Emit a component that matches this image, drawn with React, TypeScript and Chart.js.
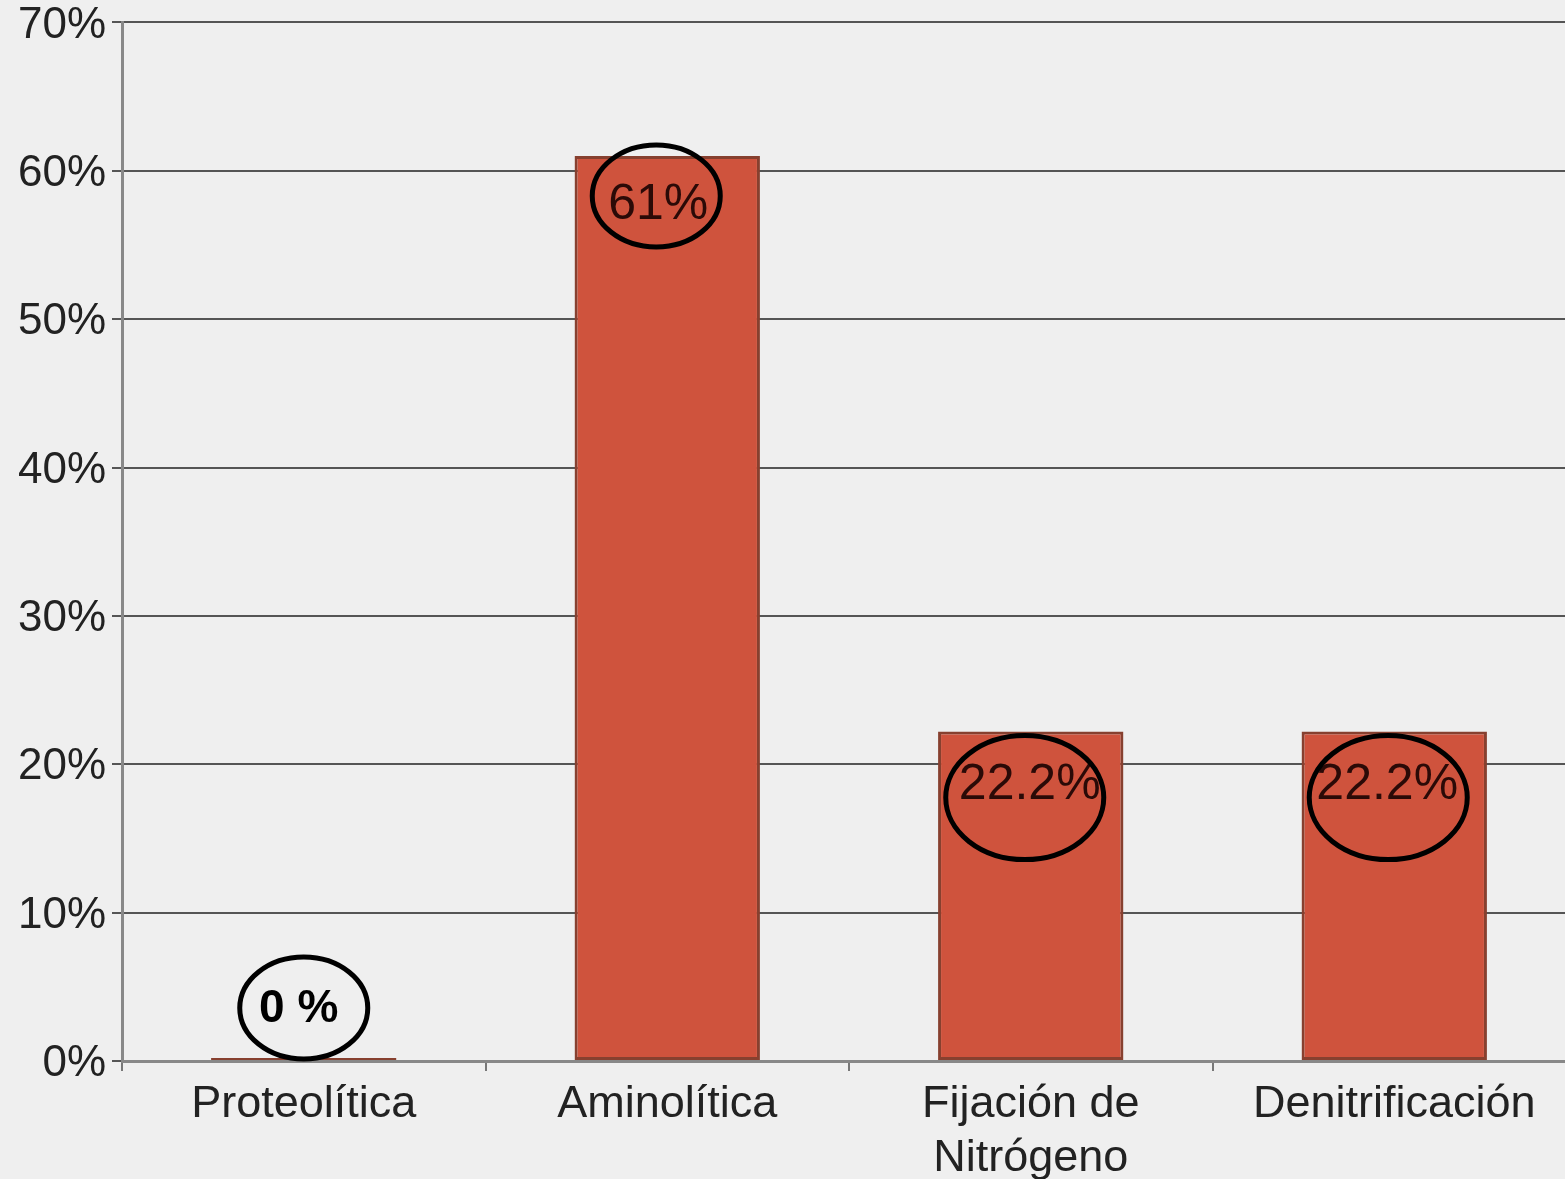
import React, { useEffect, useRef } from "react";
import { Chart, registerables } from "chart.js";

Chart.register(...registerables);

const categories: (string | string[])[] = [
  "Proteolítica",
  "Aminolítica",
  ["Fijación de", "Nitrógeno"],
  "Denitrificación",
];
const values = [0, 61, 22.2, 22.2];
const valueLabels = ["0 %", "61%", "22.2%", "22.2%"];
const yTicks = [0, 10, 20, 30, 40, 50, 60, 70];

const FONT = "'Liberation Sans', Arial, sans-serif";

const annotationPlugin = {
  id: "ellipseLabels",
  afterDatasetsDraw(chart: any) {
    const ctx = chart.ctx;
    const meta = chart.getDatasetMeta(0);
    const yScale = chart.scales.y;
    // per-bar offsets of ellipse/text relative to the bar top and centre
    const style = [
      { ex: 0, ey: -53, rx: 64, ry: 51, tx: -5, ty: -52, bold: true, size: 46, color: "#000" },
      { ex: -11, ey: 40, rx: 64, ry: 51, tx: -9, ty: 49, bold: false, size: 50, color: "rgba(20,0,0,0.88)" },
      { ex: -6, ey: 66, rx: 79, ry: 62, tx: -1, ty: 54, bold: false, size: 50, color: "rgba(20,0,0,0.88)" },
      { ex: -6, ey: 66, rx: 79, ry: 62, tx: -7, ty: 54, bold: false, size: 50, color: "rgba(20,0,0,0.88)" },
    ];
    meta.data.forEach((bar: any, i: number) => {
      const s = style[i];
      const topY = yScale.getPixelForValue(values[i]);
      const cx = bar.x;
      ctx.save();
      ctx.font = `${s.bold ? "bold " : ""}${s.size}px ${FONT}`;
      ctx.fillStyle = s.color;
      ctx.textAlign = "center";
      ctx.textBaseline = "middle";
      ctx.fillText(valueLabels[i], cx + s.tx, topY + s.ty);
      ctx.beginPath();
      ctx.ellipse(cx + s.ex, topY + s.ey, s.rx, s.ry, 0, 0, Math.PI * 2);
      ctx.lineWidth = 5;
      ctx.strokeStyle = "#000";
      ctx.stroke();
      ctx.restore();
    });
  },
};

const bgPlugin = {
  id: "bg",
  beforeDraw(chart: any) {
    const ctx = chart.ctx;
    ctx.save();
    ctx.fillStyle = "#efefef";
    ctx.fillRect(0, 0, chart.width, chart.height);
    ctx.restore();
  },
};

export default function App() {
  const ref = useRef<HTMLCanvasElement>(null);
  useEffect(() => {
    document.body.style.margin = "0";
    document.body.style.overflow = "hidden";
    document.body.style.background = "#efefef";
    const chart = new Chart(ref.current!, {
      type: "bar",
      data: {
        labels: categories,
        datasets: [
          {
            data: values,
            backgroundColor: "#cf533d",
            borderColor: "#87402f",
            borderWidth: 3,
            borderSkipped: false,
            barPercentage: 0.51,
            categoryPercentage: 1,
            minBarLength: 3,
          },
        ],
      },
      options: {
        animation: false,
        responsive: false,
        maintainAspectRatio: false,
        layout: { padding: 0 },
        plugins: { legend: { display: false }, tooltip: { enabled: false } },
        scales: {
          x: {
            grid: {
              drawOnChartArea: false,
              drawTicks: true,
              tickLength: 10,
              color: "#777",
              lineWidth: 2,
              offset: true,
            },
            border: { color: "#888", width: 3 },
            ticks: {
              color: "#222",
              font: { family: FONT, size: 45, lineHeight: 1.2 },
              padding: 7,
              maxRotation: 0,
              autoSkip: false,
            },
            afterFit(scale: any) {
              scale.height = 118;
            },
          },
          y: {
            min: 0,
            max: 70,
            afterBuildTicks(scale: any) {
              scale.ticks = yTicks.map((v) => ({ value: v }));
            },
            grid: { color: "#555", lineWidth: 2, tickLength: 10 },
            border: { color: "#888", width: 3 },
            ticks: {
              color: "#222",
              font: { family: FONT, size: 44 },
              padding: 6,
              labelOffset: 3,
              callback: (v: any) => `${v}%`,
            },
            afterFit(scale: any) {
              scale.width = 122;
            },
          },
        },
      },
      plugins: [bgPlugin, annotationPlugin],
    });
    return () => chart.destroy();
  }, []);
  return (
    <div style={{ width: 1565, height: 1179, overflow: "hidden", background: "#efefef" }}>
      <canvas
        ref={ref}
        width={1576}
        height={1189}
        style={{ display: "block", marginTop: -10 }}
      />
    </div>
  );
}
